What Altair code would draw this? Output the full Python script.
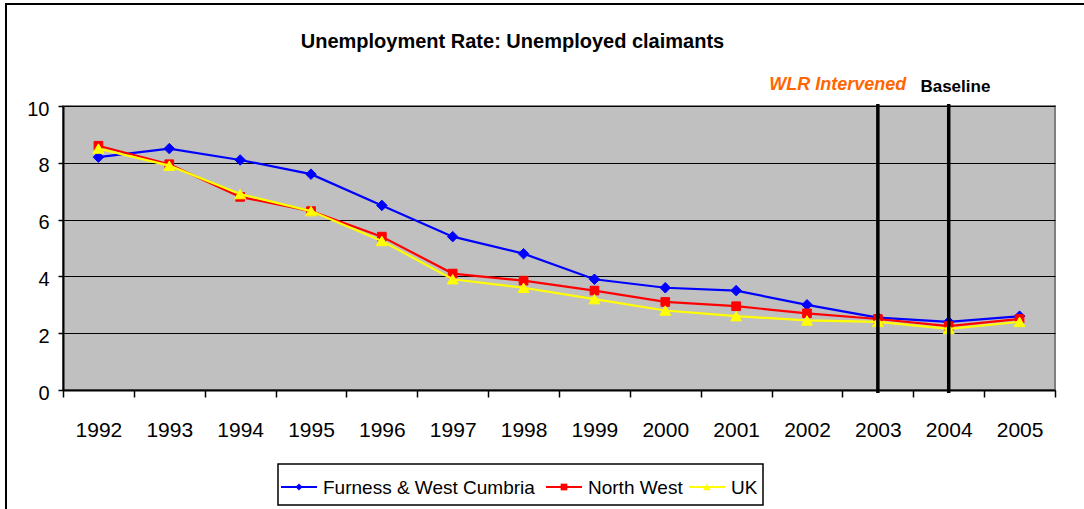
import altair as alt
import pandas as pd

# ---- data ----
YEARS = [1992, 1993, 1994, 1995, 1996, 1997, 1998, 1999, 2000, 2001, 2002, 2003, 2004, 2005]
FURNESS = [8.2, 8.5, 8.1, 7.6, 6.5, 5.4, 4.8, 3.9, 3.6, 3.5, 3.0, 2.55, 2.4, 2.6]
NORTH_WEST = [8.6, 7.95, 6.8, 6.3, 5.4, 4.1, 3.85, 3.5, 3.1, 2.95, 2.7, 2.5, 2.25, 2.5]
UK = [8.5, 7.9, 6.9, 6.3, 5.25, 3.9, 3.6, 3.2, 2.8, 2.6, 2.45, 2.4, 2.15, 2.4]
SERIES = ["Furness & West Cumbria", "North West", "UK"]
COLORS = ["#0000FF", "#FF0000", "#FFFF00"]
SHAPES = ["diamond", "square", "triangle-up"]
Y_TICKS = [0, 2, 4, 6, 8, 10]
EVENT_YEARS = [2003, 2004]
EVENT_LABELS = ["WLR Intervened", "Baseline"]
TITLE = "Unemployment Rate: Unemployed claimants"

FONT = "Liberation Sans"
W, H = 992, 284

values_by_series = [FURNESS, NORTH_WEST, UK]
rows = []
for name, vals in zip(SERIES, values_by_series):
    for y, v in zip(YEARS, vals):
        rows.append({"year": y, "value": v, "series": name})
df = pd.DataFrame(rows)

x_scale = alt.Scale(domain=[YEARS[0] - 0.5, YEARS[-1] + 0.5], nice=False, zero=False)
y_scale = alt.Scale(domain=[0, 10], nice=False)
step = W / len(YEARS)

x_axis = alt.Axis(
    values=[YEARS[0] - 0.5 + i for i in range(len(YEARS) + 1)],
    labelExpr="datum.value < %d ? toString(datum.value + 0.5) : ''" % YEARS[-1],
    labelOffset=step / 2,
    grid=False, tickSize=7, tickWidth=1.5, tickColor="black",
    domainColor="black", domainWidth=2,
    labelFontSize=21, labelColor="black", labelPadding=22, labelFont=FONT,
    labelFlush=False, labelOverlap=False, title=None,
)
y_axis = alt.Axis(
    values=Y_TICKS, grid=True, gridColor="black", gridWidth=1.2,
    tickSize=5, tickColor="black", tickWidth=1.5,
    domainColor="black", domainWidth=2,
    labelFontSize=20, labelColor="black", labelPadding=9, labelFont=FONT,
    labelOffset=3, title=None,
)

one = pd.DataFrame({"k": [0]})

# outer chart border
border = alt.Chart(one).mark_rect(fill=None, stroke="black", strokeWidth=2).encode(
    x=alt.value(-57), x2=alt.value(1060), y=alt.value(-102), y2=alt.value(420)
)

# title
title = alt.Chart(one).mark_text(
    font=FONT, fontSize=20, fontWeight="bold", color="black", align="center", baseline="alphabetic"
).encode(x=alt.value(449.5), y=alt.value(-58), text=alt.value(TITLE))

# axes carrier (invisible points)
axes = alt.Chart(df).mark_point(opacity=0).encode(
    x=alt.X("year:Q", scale=x_scale, axis=x_axis),
    y=alt.Y("value:Q", scale=y_scale, axis=y_axis),
)

layers = [border, title, axes]
sizes = [110, 75, 120]
for name, col, shp, sz in zip(SERIES, COLORS, SHAPES, sizes):
    sub = df[df["series"] == name]
    line = alt.Chart(sub).mark_line(color=col, strokeWidth=2.2).encode(
        x=alt.X("year:Q", scale=x_scale), y=alt.Y("value:Q", scale=y_scale)
    )
    pts = alt.Chart(sub).mark_point(shape=shp, filled=True, color=col, size=sz, opacity=1,
                                    stroke=col, strokeWidth=1).encode(
        x=alt.X("year:Q", scale=x_scale), y=alt.Y("value:Q", scale=y_scale)
    )
    layers += [line, pts]

# event rules
ev = pd.DataFrame({"year": EVENT_YEARS, "label": EVENT_LABELS})
rules = alt.Chart(ev).mark_rule(color="black", strokeWidth=3.5).encode(
    x=alt.X("year:Q", scale=x_scale), y=alt.value(-2), y2=alt.value(287)
)
wlr = alt.Chart(ev[ev["year"] == EVENT_YEARS[0]]).mark_text(
    font=FONT, fontSize=18, fontWeight="bold", fontStyle="italic", color="#FF6600",
    align="right", baseline="alphabetic", dx=28.5
).encode(x=alt.X("year:Q", scale=x_scale), y=alt.value(-16), text="label:N")
base = alt.Chart(ev[ev["year"] == EVENT_YEARS[1]]).mark_text(
    font=FONT, fontSize=17, fontWeight="bold", color="black",
    align="left", baseline="alphabetic", dx=-28.3
).encode(x=alt.X("year:Q", scale=x_scale), y=alt.value(-14), text="label:N")
layers += [rules, wlr, base]

# legend (drawn manually: line with marker + label)
leg_box = alt.Chart(one).mark_rect(fill="white", stroke="black", strokeWidth=1.5).encode(
    x=alt.value(215), x2=alt.value(700), y=alt.value(358), y2=alt.value(399)
)
layers.append(leg_box)
LEG_LINE_X = [218, 483, 626]
LEG_Y = 381
leg_sizes = [50, 45, 60]
for name, col, shp, lx, sz in zip(SERIES, COLORS, SHAPES, LEG_LINE_X, leg_sizes):
    lbl = pd.DataFrame({"name": [name]})
    layers.append(alt.Chart(lbl).mark_rule(color=col, strokeWidth=2).encode(
        x=alt.value(lx), x2=alt.value(lx + 36), y=alt.value(LEG_Y)))
    layers.append(alt.Chart(lbl).mark_point(shape=shp, filled=True, color=col, size=sz, opacity=1).encode(
        x=alt.value(lx + 18), y=alt.value(LEG_Y)))
    layers.append(alt.Chart(lbl).mark_text(font=FONT, fontSize=19, color="black", align="left",
                                           baseline="middle").encode(
        x=alt.value(lx + 42), y=alt.value(LEG_Y + 1), text="name:N"))

chart = alt.layer(*layers).properties(
    width=W, height=H,
    autosize=alt.AutoSizeParams(type="none"),
    padding={"left": 63, "top": 106, "right": 29, "bottom": 119},
    background="white",
).configure_view(fill="#C0C0C0", stroke="#808080", strokeWidth=2)

chart.save("out.html", embed_options={"renderer": "svg", "actions": False})
